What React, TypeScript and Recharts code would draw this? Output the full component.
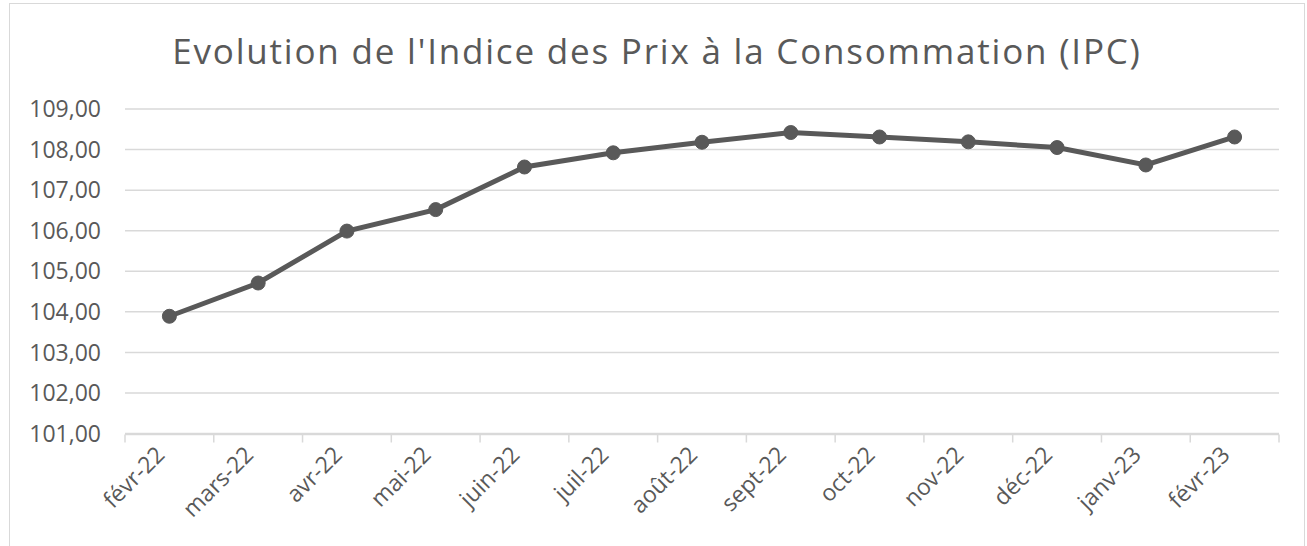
import React from 'react';
import { LineChart, Line, XAxis, YAxis, CartesianGrid } from 'recharts';

const months = [
  'févr-22', 'mars-22', 'avr-22', 'mai-22', 'juin-22', 'juil-22', 'août-22',
  'sept-22', 'oct-22', 'nov-22', 'déc-22', 'janv-23', 'févr-23',
];
const ipc = [
  103.89, 104.71, 105.99, 106.52, 107.57, 107.92, 108.18,
  108.42, 108.31, 108.19, 108.05, 107.62, 108.31,
];
const yTicks = [101, 102, 103, 104, 105, 106, 107, 108, 109];
const boundaryTicks = [0, 1, 2, 3, 4, 5, 6, 7, 8, 9, 10, 11, 12, 13];

const data = months.map((m, i) => ({ month: m, ipc: ipc[i], slot: i + 0.5 }));

const FONT = '"Open Sans", Lato, sans-serif';
const GREY = '#595959';
const LIGHT = '#d9d9d9';

const MonthTick = (props: any) => {
  const { x, y, payload } = props;
  return (
    <g transform={`translate(${x - 9},${y + 9})`}>
      <text
        transform="rotate(-45)"
        textAnchor="end"
        dy="0.35em"
        fill={GREY}
        fontSize={23}
        fontFamily={FONT}
      >
        {payload.value}
      </text>
    </g>
  );
};

// tick marks between categories, drawn at the boundary scale's positions
const BoundaryTick = (props: any) => {
  const { x, y } = props;
  return <line x1={x} x2={x} y1={y} y2={y + 8} stroke={LIGHT} strokeWidth={1.5} />;
};

export default function App() {
  return (
    <div
      style={{
        position: 'absolute',
        left: 9,
        top: 3,
        width: 1296,
        height: 560,
        border: '1.5px solid #d9d9d9',
        boxSizing: 'border-box',
        background: '#fff',
        fontFamily: FONT,
      }}
    >
      <div
        style={{
          position: 'absolute',
          top: 29,
          left: 0,
          width: '100%',
          textAlign: 'center',
          fontSize: 35,
          letterSpacing: 1.8,
          lineHeight: 1,
          color: GREY,
        }}
      >
        Evolution de l'Indice des Prix à la Consommation (IPC)
      </div>
      <LineChart
        width={1296}
        height={550}
        data={data}
        margin={{ top: 105, right: 27, left: 0, bottom: 118.5 }}
      >
        <CartesianGrid vertical={false} stroke={LIGHT} strokeWidth={1.5} />
        <XAxis
          dataKey="month"
          interval={0}
          padding={{ left: 44.4, right: 44.4 }}
          axisLine={false}
          tickLine={false}
          height={1}
          tick={<MonthTick />}
        />
        <XAxis
          xAxisId="grid"
          type="number"
          dataKey="slot"
          domain={[0, 13]}
          ticks={boundaryTicks}
          tick={<BoundaryTick />}
          tickLine={false}
          tickSize={0}
          tickMargin={0}
          height={1}
          axisLine={{ stroke: LIGHT, strokeWidth: 1.5 }}
        />
        <YAxis
          domain={[101, 109]}
          ticks={yTicks}
          width={115}
          axisLine={false}
          tickLine={false}
          tickSize={0}
          tickMargin={24}
          tick={{ fill: GREY, fontSize: 23, fontFamily: FONT }}
          tickFormatter={(v: number) => v.toFixed(2).replace('.', ',')}
        />
        <Line
          xAxisId="grid"
          type="linear"
          dataKey="ipc"
          stroke="none"
          dot={false}
          activeDot={false}
          legendType="none"
          isAnimationActive={false}
        />
        <Line
          type="linear"
          dataKey="ipc"
          stroke={GREY}
          strokeWidth={5}
          dot={{ r: 7, fill: GREY, stroke: GREY, strokeWidth: 1 }}
          isAnimationActive={false}
        />
      </LineChart>
    </div>
  );
}
